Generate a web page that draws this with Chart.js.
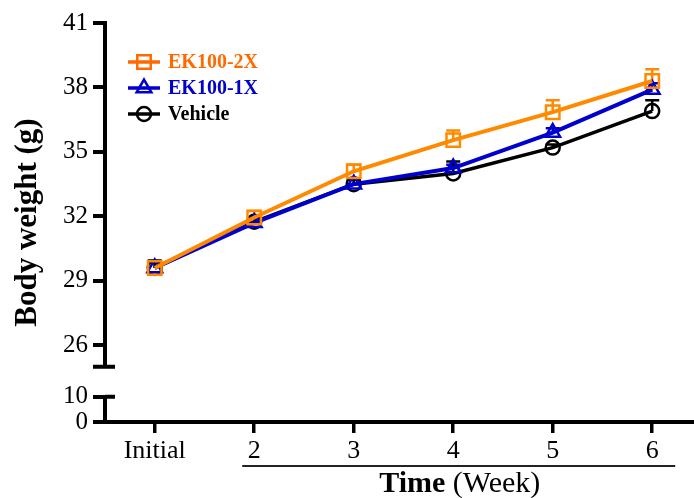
<!DOCTYPE html>
<html><head><meta charset="utf-8">
<script src="https://cdn.jsdelivr.net/npm/chart.js@4/dist/chart.umd.min.js"></script>
<style>html,body{margin:0;padding:0;background:#fff;}#wrap{width:694px;height:498px;}</style>
</head><body><div id="wrap"><canvas id="c" width="694" height="498"></canvas></div>
<script>
// ---- data ----
const categories = ['Initial', '2', '3', '4', '5', '6'];
const seriesNames = ['EK100-2X', 'EK100-1X', 'Vehicle'];
const ek2x = [29.6, 31.95, 34.1, 35.55, 36.85, 38.3];
const ek2xErr = [0.3, 0.3, 0.3, 0.45, 0.55, 0.55];
const ek1x = [29.6, 31.7, 33.5, 34.25, 35.9, 37.9];
const ek1xErr = [0.3, 0.2, 0.2, 0.15, 0.2, 0.3];
const vehicle = [29.6, 31.75, 33.5, 34.0, 35.2, 36.9];
const vehicleErr = [0.35, 0.2, 0.25, 0.55, 0.15, 0.5];
const upperTicks = [26, 29, 32, 35, 38, 41];
const lowerTicks = [0, 10];
const xTitleBold = 'Time';
const xTitleRest = ' (Week)';
const yTitle = 'Body weight (g)';

// ---- broken axis mapping ----
const Y_MIN = 22.43, Y_MAX = 41, BREAK_TOP = 25, LOWER_SCALE = 0.117;
const mapLower = v => Y_MIN + v * LOWER_SCALE;

const serif = "'Liberation Serif', 'Times New Roman', serif";
const colors = ['#FF8A00', '#0000CC', '#000000'];
const legendColors = ['#FF6A00', '#0000CC', '#000000'];
const styles = ['rect', 'triangle', 'circle'];
const radii = [9.5, 8.5, 7];
const values = [ek2x, ek1x, vehicle];
const errs = [ek2xErr, ek1xErr, vehicleErr];

const datasets = values.map((vals, k) => ({
  label: seriesNames[k],
  data: vals.map((v, i) => ({x: i, y: v})),
  borderColor: colors[k],
  backgroundColor: 'rgba(0,0,0,0)',
  borderWidth: k === 2 ? 3.5 : 4,
  pointStyle: styles[k],
  pointRadius: radii[k],
  pointBorderWidth: 2.5,
  pointBorderColor: colors[k],
  pointBackgroundColor: 'rgba(0,0,0,0)',
  pointHoverRadius: radii[k],
  tension: 0,
  clip: false
}));

const tickLabels = lowerTicks.concat(upperTicks).map(String);

const decor = {
  id: 'decor',
  beforeDatasetsDraw(chart) {
    const ctx = chart.ctx, xs = chart.scales.x, ys = chart.scales.y;
    ctx.save();
    ctx.lineWidth = 2.5;
    values.forEach((vals, k) => {
      ctx.strokeStyle = colors[k];
      vals.forEach((v, i) => {
        const px = xs.getPixelForValue(i);
        const y0 = ys.getPixelForValue(v);
        const y1 = ys.getPixelForValue(v + errs[k][i]);
        ctx.beginPath();
        ctx.moveTo(px, y0); ctx.lineTo(px, y1);
        ctx.moveTo(px - 7, y1); ctx.lineTo(px + 7, y1);
        ctx.stroke();
      });
    });
    ctx.restore();
  },
  afterDraw(chart) {
    const ctx = chart.ctx, xs = chart.scales.x, ys = chart.scales.y;
    const ax = chart.chartArea.left;
    ctx.save();
    ctx.strokeStyle = '#000';
    ctx.lineWidth = 4;
    ctx.lineCap = 'butt';
    const yTop = ys.getPixelForValue(Y_MAX) - 2;
    const yBrk = ys.getPixelForValue(BREAK_TOP);
    ctx.beginPath();
    ctx.moveTo(ax, yTop); ctx.lineTo(ax, yBrk);
    ctx.moveTo(ax - 12, yBrk); ctx.lineTo(ax + 10, yBrk);
    const yL10 = ys.getPixelForValue(mapLower(lowerTicks[1]));
    const yL0 = ys.getPixelForValue(mapLower(lowerTicks[0])) + 2;
    ctx.moveTo(ax, yL10); ctx.lineTo(ax, yL0);
    ctx.moveTo(ax, yL10); ctx.lineTo(ax + 10, yL10);
    ctx.stroke();
    const u0 = xs.getPixelForValue(1) - 12;
    const u1 = xs.getPixelForValue(5) + 23;
    ctx.lineWidth = 2;
    ctx.strokeStyle = '#222';
    ctx.beginPath();
    ctx.moveTo(u0, 466); ctx.lineTo(u1, 466);
    ctx.stroke();
    ctx.fillStyle = '#000';
    ctx.textBaseline = 'alphabetic';
    ctx.font = "bold 30px " + serif;
    const wb = ctx.measureText(xTitleBold).width;
    ctx.font = "30px " + serif;
    const wr = ctx.measureText(xTitleRest).width;
    const cx = (u0 + u1) / 2 + 1;
    let sx = cx - (wb + wr) / 2;
    ctx.font = "bold 30px " + serif;
    ctx.fillText(xTitleBold, sx, 492);
    ctx.font = "30px " + serif;
    ctx.fillText(xTitleRest, sx + wb, 492);
    ctx.textBaseline = 'middle';
    ctx.font = "bold 20px " + serif;
    const rows = [62, 88, 114];
    seriesNames.forEach((name, k) => {
      const y = rows[k];
      ctx.strokeStyle = legendColors[k];
      ctx.lineWidth = 3.5;
      ctx.beginPath(); ctx.moveTo(128, y); ctx.lineTo(160, y); ctx.stroke();
      ctx.lineWidth = 2.5;
      ctx.fillStyle = 'rgba(0,0,0,0)';
      Chart.helpers.drawPoint(ctx, {pointStyle: styles[k], radius: radii[k], rotation: 0, borderWidth: 2.5}, 144, y);
      ctx.fillStyle = legendColors[k];
      ctx.fillText(name, 168, y + 1);
    });
    ctx.restore();
  }
};

new Chart(document.getElementById('c'), {
  type: 'line',
  data: {datasets},
  options: {
    responsive: false,
    devicePixelRatio: 1,
    animation: false,
    layout: {autoPadding: false, padding: {top: 23, right: 0, bottom: 0, left: 0}},
    plugins: {legend: {display: false}, tooltip: {enabled: false}},
    scales: {
      x: {
        type: 'linear',
        min: -0.5,
        max: 5.42,
        afterBuildTicks: s => { s.ticks = categories.map((_, i) => ({value: i})); },
        afterFit: s => { s.height = 76; s.paddingRight = 0; s.paddingLeft = 0; },
        ticks: {
          callback: (v) => categories[v],
          font: {family: serif, size: 26},
          color: '#000',
          padding: 3,
          autoSkip: false,
          maxRotation: 0
        },
        grid: {drawOnChartArea: false, drawTicks: true, tickLength: 11, lineWidth: 3.5, color: '#000'},
        border: {display: true, color: '#000', width: 4}
      },
      y: {
        type: 'linear',
        min: Y_MIN,
        max: Y_MAX,
        afterBuildTicks: s => { s.ticks = lowerTicks.map(mapLower).concat(upperTicks).map(v => ({value: v})); },
        afterFit: s => { s.width = 105; s.paddingTop = 0; s.paddingBottom = 0; },
        ticks: {
          callback: (v, i) => tickLabels[i],
          font: {family: serif, size: 25},
          color: '#000',
          padding: 5,
          autoSkip: false
        },
        grid: {drawOnChartArea: false, drawTicks: true, tickLength: 12, lineWidth: 4, color: '#000'},
        border: {display: false},
        title: {
          display: true,
          text: yTitle,
          font: {family: serif, size: 31, weight: 'bold'},
          color: '#000',
          padding: {top: 9, bottom: 0}
        }
      }
    }
  },
  plugins: [decor]
});
</script>
</body></html>
